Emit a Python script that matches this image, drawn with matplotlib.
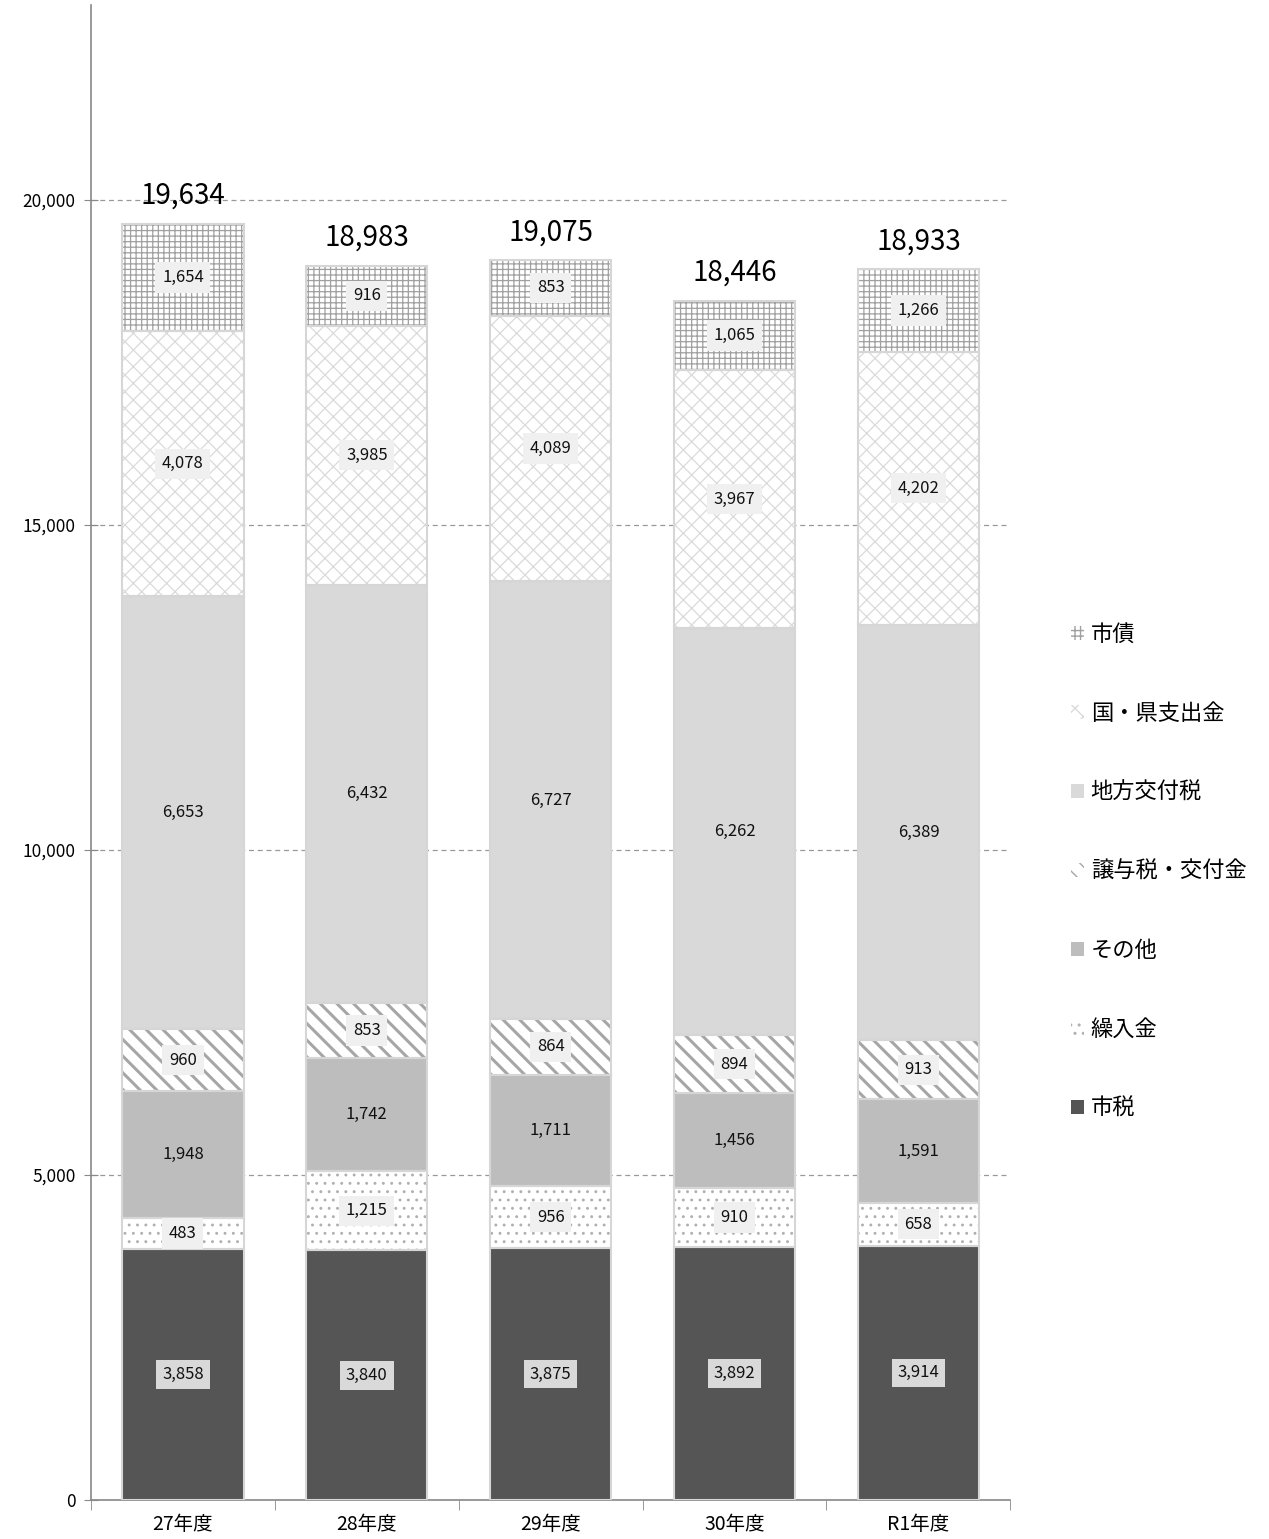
import matplotlib
matplotlib.use('Agg')
import matplotlib.pyplot as plt
import numpy as np

plt.rcParams['font.family'] = ['Noto Sans CJK JP', 'DejaVu Sans']

years = ['27年度', '28年度', '29年度', '30年度', 'R1年度']

shizei = [3858, 3840, 3875, 3892, 3914]          # 市税
kurinyu = [483, 1215, 956, 910, 658]              # 繰入金
sonota = [1948, 1742, 1711, 1456, 1591]           # その他
joyo = [960, 853, 864, 894, 913]                  # 譲与税・交付金
chiho = [6653, 6432, 6727, 6262, 6389]            # 地方交付税
kokuken = [4078, 3985, 4089, 3967, 4202]          # 国・県支出金
shisai = [1654, 916, 853, 1065, 1266]             # 市債
totals = [19634, 18983, 19075, 18446, 18933]

series = [
    ('市税', shizei, '#555555', None, None),
    ('繰入金', kurinyu, 'white', '..', '#b0b0b0'),
    ('その他', sonota, '#bdbdbd', None, None),
    ('譲与税・交付金', joyo, 'white', '\\\\', '#a6a6a6'),
    ('地方交付税', chiho, '#d9d9d9', None, None),
    ('国・県支出金', kokuken, 'white', 'xx', '#dadada'),
    ('市債', shisai, 'white', '+++', '#a0a0a0'),
]

fig = plt.figure(figsize=(12.69, 15.39), dpi=100)
ax = fig.add_axes([0.0717, 0.0253, 0.7245, 0.9715])

x = np.arange(len(years))
w = 0.66
bottom = np.zeros(len(years))
handles = []
for name, vals, fc, hatch, hc in series:
    vals = np.array(vals)
    if hatch:
        with plt.rc_context({'hatch.linewidth': 2.2 if hatch == '\\\\' else 0.9}):
            b = ax.bar(x, vals, w, bottom=bottom, color=fc, edgecolor=hc,
                       hatch=hatch, linewidth=0, zorder=3, label=name)
    else:
        b = ax.bar(x, vals, w, bottom=bottom, color=fc, linewidth=0,
                   zorder=3, label=name)
    ax.bar(x, vals, w, bottom=bottom, fill=False, edgecolor='#d6d6d6',
           linewidth=1.5, zorder=4)
    handles.append(b)
    for xi, v, bt in zip(x, vals, bottom):
        if fc == '#555555':
            box = dict(boxstyle='square,pad=0.35', fc='#d9d9d9', ec='none')
        elif hatch:
            box = dict(boxstyle='square,pad=0.4', fc='#f0f0f0', ec='none')
        else:
            box = None
        ax.text(xi, bt + v / 2, f'{v:,}', ha='center', va='center',
                fontsize=12, color='#111111', bbox=box, zorder=5)
    bottom = bottom + vals

for xi, t in zip(x, totals):
    ax.text(xi, t + 430, f'{t:,}', ha='center', va='center',
            fontsize=20, color='black', zorder=6)

ax.set_xlim(-0.5, len(years) - 0.5)
ax.set_ylim(0, 23000)
ax.set_yticks([0, 5000, 10000, 15000, 20000])
ax.set_yticklabels(['0', '5,000', '10,000', '15,000', '20,000'], fontsize=12.5)
ax.set_xticks(x)
ax.set_xticklabels(years, fontsize=14)
ax.set_xticks(np.arange(-0.5, len(years)), minor=True)
ax.tick_params(axis='x', which='major', length=0, pad=10)
ax.tick_params(axis='x', which='minor', length=7, direction='out', color='#888888')
ax.tick_params(axis='y', length=10, direction='inout', color='#888888', pad=6)
ax.yaxis.grid(True, linestyle=(0, (4, 3)), color='#999999', linewidth=0.9, zorder=0)
for s in ['top', 'right']:
    ax.spines[s].set_visible(False)
for s in ['left', 'bottom']:
    ax.spines[s].set_color('#888888')
    ax.spines[s].set_linewidth(1.2)

leg = fig.legend(handles[::-1], [s[0] for s in series][::-1],
                 loc='center left', bbox_to_anchor=(0.828, 0.434),
                 frameon=False, fontsize=16, handlelength=0.6, handleheight=0.6,
                 handletextpad=0.3, labelspacing=2.52)

fig.savefig('out.png', dpi=100)
